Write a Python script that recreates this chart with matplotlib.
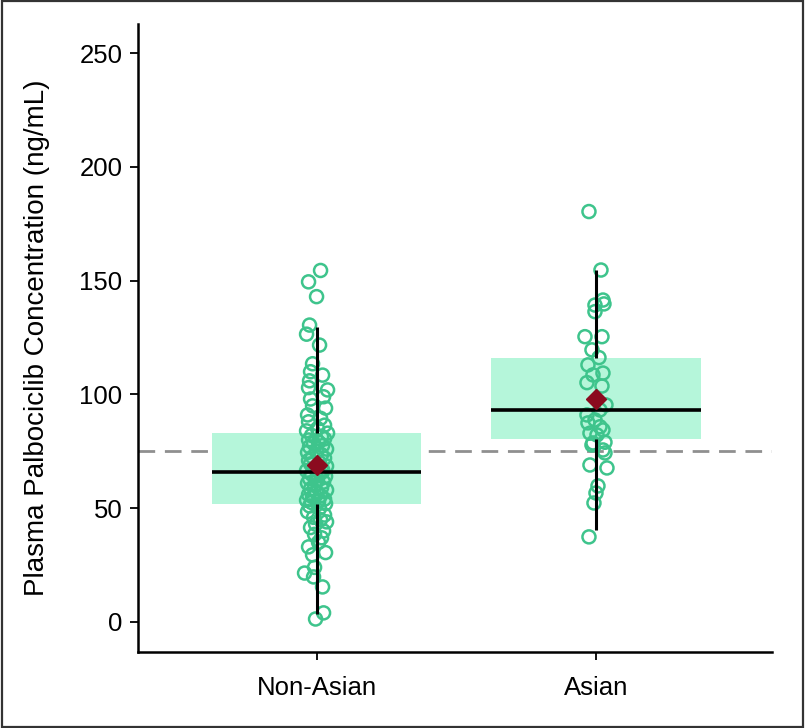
import matplotlib
matplotlib.use("Agg")
import matplotlib.pyplot as plt
from matplotlib.patches import Rectangle
from matplotlib import font_manager
import numpy as np

# ---- data ----
categories = ["Non-Asian", "Asian"]

non_asian_values = [154.5, 149.5, 143, 130.5, 126.5, 121.7, 113.5, 110, 108.5, 106, 103, 102,
                    99, 98, 95, 94, 91, 89.5, 88, 86.5, 85, 84,
                    83, 82, 81.5, 80.5, 80, 79, 78.5, 77.5, 77, 76, 75, 74.5, 73.5, 72.5, 72,
                    71, 70, 69.5, 68.5, 67.5, 67, 66.5, 65.5, 65, 64, 63, 62.5, 61.5, 61, 60,
                    59, 58.5, 58, 57, 56, 55.5, 55, 54, 53.5, 53, 52.5, 52, 62, 66,
                    51, 50, 48.5, 47, 46, 45, 44, 43, 41.5, 40, 38.5, 37, 35, 33, 30.5, 29.5,
                    24, 21.5, 19.8, 15.4, 4, 1.3]
non_asian_jitter = [4, -8, 0, -7, -10, 3, -4, -6, 6, -7, -8, 11, 7, -6, -4, 9, -9, 4, -8, 8, 1, -10,
                    11, -5, 5, 8, -8, 2, -3, 6, -7, 10, 0, -9, 5, -4, 8, -8, 3, -6, 10, -2, 6, -10,
                    3, -5, 9, -7, 1, 7, -9, -2, 5, -6, 10, 0, -8, 4, -4, 8, -10, 2, -5, 9, -1, 6,
                    -7, 3, -9, 8, -3, 4, 10, -1, -6, 7, -2, 5, 2, -8, 9, -4, -2, -12, -3, 6, 7, -1]

asian_values = [180.4, 154.7, 141.5, 139.8, 139.3, 136.4, 125.4, 125.4, 119.6, 116.2, 113, 109.4,
                108.6, 105.2, 103.7, 95.4, 93.2, 91, 88.8, 87.5, 85.8, 84.4, 83, 82.2, 79, 78.7,
                77.8, 75.6, 74.3, 69, 67.7, 59.8, 56.7, 52.3, 37.4]
asian_jitter = [-7, 5, 7, 8, -1, -1, -11, 6, -4, 3, -8, 7, -3, -9, 6, 10, 4, -9, -1, -8, 4, 7,
                -6, 1, 9, -3, -4, 7, 9, -6, 11, 2, 0, -2, -7]

q1 = [52, 80.5]
median = [66, 93]
q3 = [83, 116]
whisker_low = [3.5, 40.4]
whisker_high = [129.7, 154.7]
mean = [69, 98]
reference_level = 75

yticks = [0, 50, 100, 150, 200, 250]
ylabel = "Plasma Palbociclib Concentration (ng/mL)"

# ---- styling ----
plt.rcParams['font.family'] = ['Liberation Sans', 'DejaVu Sans']
installed = {f.name for f in font_manager.fontManager.ttflist}
if 'Liberation Sans Narrow' in installed:
    label_family = ['Liberation Sans Narrow', 'DejaVu Sans']
    label_size = 24
else:
    label_family = ['Liberation Sans', 'DejaVu Sans']
    label_size = 20

circle_color = "#3ec48c"
box_color = "#b5f6da"
mean_color = "#8b0b1f"
px_per_unit_x = 279.5  # pixels per category step, used only to scale jitter

fig = plt.figure(figsize=(8.05, 7.28), dpi=100)
ax = fig.add_axes([0.1711, 0.1044, 0.959 - 0.1711, 0.9666 - 0.1044])

positions = np.arange(len(categories))
box_w = 0.75

ax.axhline(reference_level, color="#8f8f8f", lw=2.0, ls=(0, (6, 3.5)), zorder=0.5)

for i, pos in enumerate(positions):
    ax.add_patch(Rectangle((pos - box_w / 2, q1[i]), box_w, q3[i] - q1[i],
                           facecolor=box_color, edgecolor="none", zorder=1))

groups = [(non_asian_values, non_asian_jitter), (asian_values, asian_jitter)]
for pos, (vals, jit) in zip(positions, groups):
    xs = pos + np.array(jit) / px_per_unit_x
    ax.scatter(xs, vals, s=88, facecolors="none", edgecolors=circle_color,
               linewidths=1.8, zorder=2)

for i, pos in enumerate(positions):
    ax.plot([pos, pos], [whisker_low[i], q1[i]], color="black", lw=2.2, zorder=3,
            solid_capstyle="butt")
    ax.plot([pos, pos], [q3[i], whisker_high[i]], color="black", lw=2.2, zorder=3,
            solid_capstyle="butt")
    ax.plot([pos - box_w / 2, pos + box_w / 2], [median[i], median[i]], color="black",
            lw=2.6, zorder=3, solid_capstyle="butt")
    ax.plot([pos], [mean[i]], marker="D", ms=10.5, color=mean_color, zorder=4, ls="none")

ax.set_xlim(-0.64, 1.63)
ax.set_ylim(-13.2, 262.7)
ax.set_xticks(positions)
ax.set_xticklabels(categories)
ax.set_yticks(yticks)
for s in ["top", "right"]:
    ax.spines[s].set_visible(False)
for s in ["left", "bottom"]:
    ax.spines[s].set_linewidth(1.8)
ax.tick_params(axis="both", labelsize=18.5, width=1.3, length=6, direction="out", pad=5)
ax.tick_params(axis="x", pad=11)
ax.set_ylabel(ylabel, fontsize=label_size, family=label_family, labelpad=21)

fig.patches.append(Rectangle((0.002, 0.002), 0.996, 0.996, transform=fig.transFigure,
                             fill=False, edgecolor="#333333", lw=1.6))

fig.savefig("out.png", dpi=100)
